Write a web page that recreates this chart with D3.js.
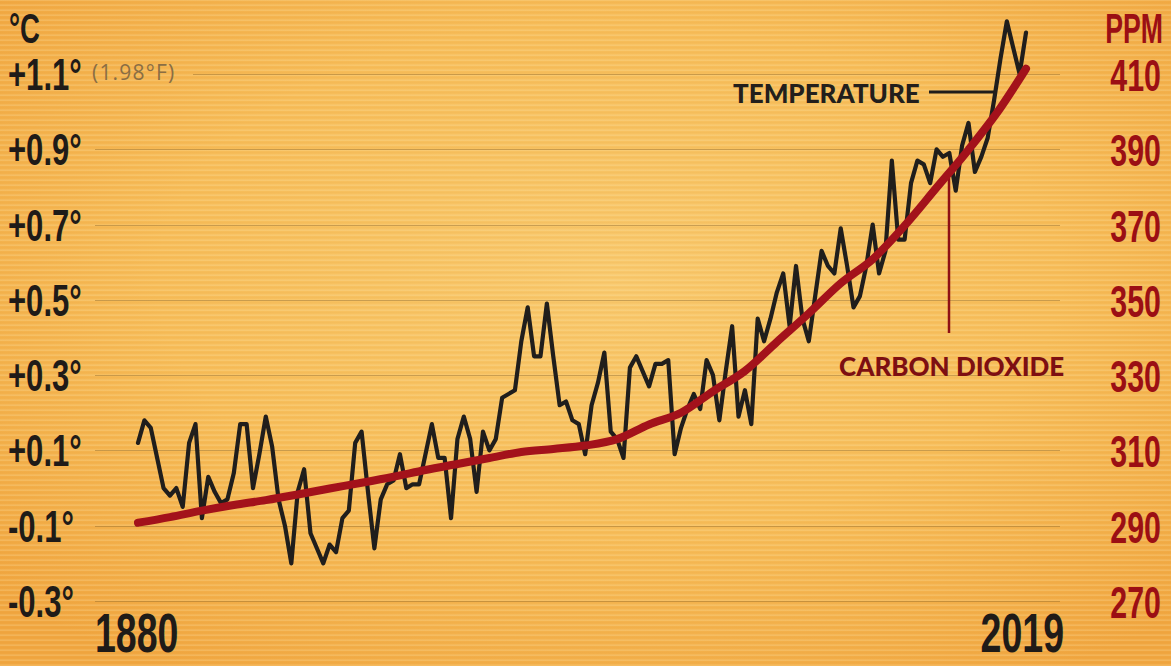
<!DOCTYPE html>
<html>
<head>
<meta charset="utf-8">
<script src="https://cdn.jsdelivr.net/npm/d3@7"></script>
<style>
  html, body { margin: 0; padding: 0; background: #f3b24c; }
  svg { display: block; }
</style>
</head>
<body>
<div id="chart"></div>
<script>
// annual temperature, °C on the chart's scale (1880 .. 2019)
var tempValues = [
   0.12,  0.18,  0.16,  0.08,  0.00, -0.02,  0.00, -0.05,  0.12,  0.17,
  -0.08,  0.03, -0.01, -0.04, -0.03,  0.04,  0.17,  0.17,  0.00,  0.09,
   0.19,  0.11, -0.03, -0.10, -0.20, -0.01,  0.05, -0.12, -0.16, -0.20,
  -0.15, -0.17, -0.08, -0.06,  0.12,  0.15, -0.01, -0.16, -0.03,  0.01,
   0.02,  0.09,  0.00,  0.01,  0.01,  0.09,  0.17,  0.08,  0.08, -0.08,
   0.13,  0.19,  0.13, -0.01,  0.15,  0.10,  0.13,  0.24,  0.25,  0.26,
   0.39,  0.48,  0.35,  0.35,  0.49,  0.35,  0.22,  0.23,  0.18,  0.17,
   0.09,  0.22,  0.28,  0.36,  0.15,  0.13,  0.08,  0.32,  0.35,  0.31,
   0.27,  0.33,  0.33,  0.34,  0.09,  0.16,  0.21,  0.25,  0.21,  0.34,
   0.30,  0.18,  0.31,  0.43,  0.19,  0.26,  0.17,  0.45,  0.39,  0.45,
   0.52,  0.57,  0.43,  0.59,  0.45,  0.39,  0.51,  0.63,  0.59,  0.57,
   0.69,  0.59,  0.48,  0.51,  0.59,  0.70,  0.57,  0.63,  0.87,  0.66,
   0.66,  0.81,  0.87,  0.86,  0.81,  0.90,  0.88,  0.89,  0.79,  0.91,
   0.97,  0.84,  0.88,  0.93,  1.03,  1.14,  1.24,  1.17,  1.10,  1.21
];
var tempYears = d3.range(1880, 1880 + tempValues.length);

// carbon dioxide, ppm
var co2Years  = [1880, 1885, 1890, 1895, 1900, 1905, 1910, 1915, 1920, 1925,
                 1930, 1935, 1940, 1945, 1950, 1955, 1960, 1965, 1970, 1975,
                 1980, 1985, 1990, 1995, 2000, 2005, 2010, 2015, 2019];
var co2Values = [290.8, 292.3, 294.0, 295.5, 296.8, 298.3, 299.9, 301.4, 303.0, 304.8,
                 306.4, 308.0, 309.6, 310.4, 311.3, 313.0, 316.9, 320.0, 325.7, 331.1,
                 338.8, 346.4, 354.4, 360.8, 369.7, 379.8, 389.9, 401.0, 411.4];

var tempTicks = [-0.3, -0.1, 0.1, 0.3, 0.5, 0.7, 0.9, 1.1];
var ppmTicks  = [270, 290, 310, 330, 350, 370, 390, 410];
var yearLabels = [1880, 2019];

var W = 1171, H = 666;

var x = d3.scaleLinear().domain([1880, 2019]).range([138, 1026]);
var yTemp = d3.scaleLinear().domain([-0.3, 1.1]).range([601, 74]);
var yCo2 = d3.scaleLinear().domain([270, 410]).range([601, 74]);

var svg = d3.select("#chart").append("svg")
    .attr("width", W)
    .attr("height", H);

var defs = svg.append("defs");
var grad = defs.append("radialGradient")
    .attr("id", "paper")
    .attr("cx", "52%").attr("cy", "42%").attr("r", "70%");
grad.append("stop").attr("offset", "0%").attr("stop-color", "#f8c86c");
grad.append("stop").attr("offset", "55%").attr("stop-color", "#f6bc58");
grad.append("stop").attr("offset", "100%").attr("stop-color", "#f0a640");

// fine horizontal grain
var pat = defs.append("pattern")
    .attr("id", "grain")
    .attr("width", 40).attr("height", 5)
    .attr("patternUnits", "userSpaceOnUse");
pat.append("rect").attr("x", 0).attr("y", 0).attr("width", 40).attr("height", 1)
    .attr("fill", "#fff3c8").attr("opacity", 0.18);
pat.append("rect").attr("x", 0).attr("y", 2).attr("width", 40).attr("height", 1)
    .attr("fill", "#d98a20").attr("opacity", 0.06);
pat.append("rect").attr("x", 0).attr("y", 4).attr("width", 40).attr("height", 1)
    .attr("fill", "#fff0c0").attr("opacity", 0.12);

svg.append("rect").attr("width", W).attr("height", H).attr("fill", "url(#paper)");
svg.append("rect").attr("width", W).attr("height", H).attr("fill", "url(#grain)");

// gridlines
svg.append("g").selectAll("line")
    .data(tempTicks)
    .enter().append("line")
    .attr("x1", function (d) { return d === 1.1 ? 193 : 95; })
    .attr("x2", 1060)
    .attr("y1", function (d) { return Math.round(yTemp(d)) + 0.5; })
    .attr("y2", function (d) { return Math.round(yTemp(d)) + 0.5; })
    .attr("stroke", "#9a6f2c")
    .attr("stroke-opacity", 0.5)
    .attr("stroke-width", 1);

var condensed = "'Liberation Sans', Arial, sans-serif";

function fmtTemp(d) {
    return (d > 0 ? "+" : "-") + Math.abs(d).toFixed(1) + "°";
}

// left axis labels
svg.append("g").selectAll("text")
    .data(tempTicks)
    .enter().append("text")
    .attr("transform", function (d) { return "translate(8," + (yTemp(d) + 16) + ") scale(0.69,1)"; })
    .attr("font-family", condensed)
    .attr("font-weight", "bold")
    .attr("font-size", 45)
    .attr("fill", "#1f1b18")
    .text(fmtTemp);

// right axis labels
svg.append("g").selectAll("text")
    .data(ppmTicks)
    .enter().append("text")
    .attr("transform", function (d) { return "translate(1161," + (yCo2(d) + 17) + ") scale(0.69,1)"; })
    .attr("text-anchor", "end")
    .attr("font-family", condensed)
    .attr("font-weight", "bold")
    .attr("font-size", 44)
    .attr("fill", "#9b0f14")
    .text(function (d) { return d; });

// unit labels
svg.append("text")
    .attr("transform", "translate(9,43) scale(0.64,1)")
    .attr("font-family", condensed).attr("font-weight", "bold").attr("font-size", 43)
    .attr("fill", "#1f1b18")
    .text("°C");
svg.append("text")
    .attr("transform", "translate(1163,43) scale(0.62,1)")
    .attr("text-anchor", "end")
    .attr("font-family", condensed).attr("font-weight", "bold").attr("font-size", 43)
    .attr("fill", "#9b0f14")
    .text("PPM");

svg.append("text")
    .attr("x", 92).attr("y", 80)
    .attr("font-family", "'Open Sans', sans-serif")
    .attr("font-size", 21)
    .attr("letter-spacing", 1.2)
    .attr("fill", "#8a6e44")
    .text("(1.98°F)");

// year labels
svg.append("g").selectAll("text")
    .data(yearLabels)
    .enter().append("text")
    .attr("transform", function (d, i) {
        return "translate(" + (i === 0 ? 95 : 1064) + ",652) scale(0.67,1)";
    })
    .attr("text-anchor", function (d, i) { return i === 0 ? "start" : "end"; })
    .attr("font-family", condensed)
    .attr("font-weight", "bold")
    .attr("font-size", 56)
    .attr("fill", "#1f1b18")
    .text(function (d) { return d; });

// annotations
svg.append("line")
    .attr("x1", 929).attr("x2", 994)
    .attr("y1", 92).attr("y2", 92)
    .attr("stroke", "#1f1d1b").attr("stroke-width", 3);
svg.append("text")
    .attr("x", 733).attr("y", 103)
    .attr("font-family", "Lato, 'Open Sans', sans-serif")
    .attr("font-weight", 900)
    .attr("font-size", 26)
    .attr("fill", "#231f1c")
    .text("TEMPERATURE");

svg.append("line")
    .attr("x1", 949).attr("x2", 949)
    .attr("y1", 178).attr("y2", 333)
    .attr("stroke", "#8e1015").attr("stroke-width", 2.5);
svg.append("text")
    .attr("x", 839).attr("y", 376)
    .attr("font-family", "Lato, 'Open Sans', sans-serif")
    .attr("font-weight", 900)
    .attr("font-size", 26)
    .attr("fill", "#7d0f12")
    .text("CARBON DIOXIDE");

// temperature line
var tempLine = d3.line()
    .x(function (d, i) { return x(tempYears[i]); })
    .y(function (d) { return yTemp(d); });

svg.append("path")
    .datum(tempValues)
    .attr("d", tempLine)
    .attr("fill", "none")
    .attr("stroke", "#201e1c")
    .attr("stroke-width", 4.2)
    .attr("stroke-linejoin", "round")
    .attr("stroke-linecap", "round");

// co2 line
var co2Line = d3.line()
    .curve(d3.curveMonotoneX)
    .x(function (d, i) { return x(co2Years[i]); })
    .y(function (d) { return yCo2(d); });

svg.append("path")
    .datum(co2Values)
    .attr("d", co2Line)
    .attr("fill", "none")
    .attr("stroke", "#a3121b")
    .attr("stroke-width", 8)
    .attr("stroke-linejoin", "round")
    .attr("stroke-linecap", "round");
</script>
</body>
</html>
